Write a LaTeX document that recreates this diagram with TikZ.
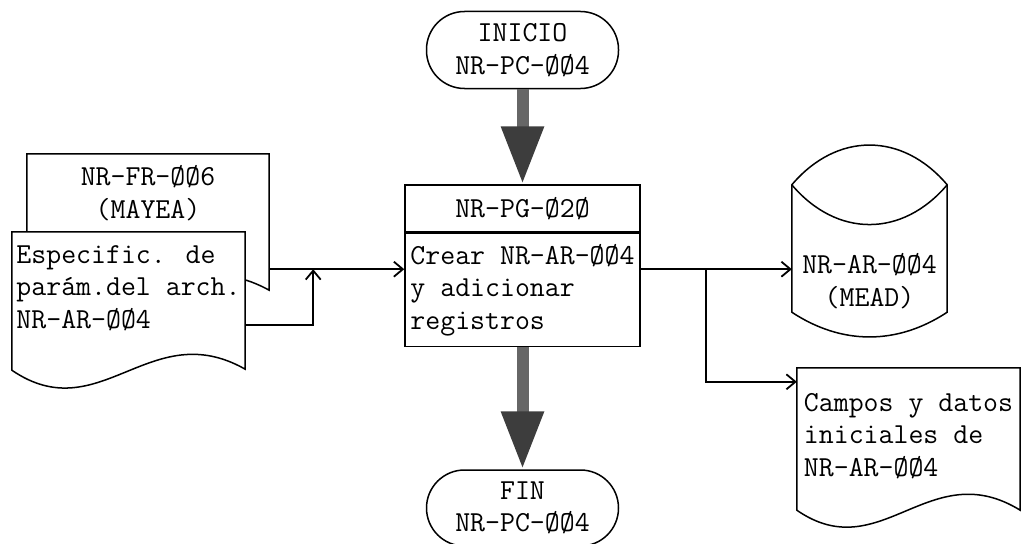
\documentclass[tikz,border=0pt]{standalone}
\usepackage{fontspec}
\usepackage{tikz}
\usetikzlibrary{arrows.meta,positioning,calc,backgrounds}

\begin{document}
\begin{tikzpicture}[
			x=1pt, y=-1pt,
			txt/.style={
				font=\ttfamily\fontsize{29}{32.5}\selectfont
			},
			terminal/.style={
				txt,
				draw,
				line width=1.5pt,
				rounded corners=38pt,
				align=center,
				minimum width=192pt,
				minimum height=77pt,
				inner sep=2pt
			},
			process/.style={
				txt,
				draw,
				line width=1.5pt,
				align=left,
				minimum width=235pt,
				inner sep=3pt
			},
			docnode/.style={
				txt,
				align=left,
				inner sep=2pt
			},
			docframe/.style={
				draw,
				line width=1.5pt,
				fill=white
			},
			flow/.style={
				line width=12pt,
				draw=black!60,
				-{Triangle[length=58pt,width=40pt,color=black!76]}
			},
			link/.style={
				line width=1.8pt,
				-{Straight Barb[length=9pt,width=15pt]}
			}
			]
			
			\useasboundingbox (0,0) rectangle (1024,543);
			
			%=====================================================================
			% Main process
			%=====================================================================
			
			\node[process, minimum height=47pt] (pgm) at (522.5,208.5)
			{NR-PG-Ø2Ø};
			
			\node[process, minimum height=113pt, below=0pt of pgm] (crear)
			{Crear NR-AR-ØØ4\\y adicionar\\registros};
			
			\node[terminal, above=95pt of pgm] (inicio)
			{INICIO\\NR-PC-ØØ4};
			
			\node[terminal, minimum height=76pt, below=122pt of crear] (fin)
			{FIN\\NR-PC-ØØ4};
			
			\draw[flow] (inicio) -- (pgm);
			\draw[flow] (crear) -- (fin);
			
			%=====================================================================
			% Inputs
			%=====================================================================
			
			\node[docnode, align=center, minimum width=242pt, minimum height=78pt] (mayea) at (148,193)
			{NR-FR-ØØ6\\(MAYEA)};
			
			\node[docnode, minimum width=233pt, minimum height=112pt] (espec) at (128.5,288)
			{Especific. de\\parám.del arch.\\NR-AR-ØØ4};
			
			%=====================================================================
			% Outputs
			%=====================================================================
			
			\node[docnode, align=center, minimum width=155pt, minimum height=112pt] (mead) at (869.5,281)
			{NR-AR-ØØ4\\(MEAD)};
			
			\node[docnode, minimum width=223pt, minimum height=136pt] (campos) at (908.5,436)
			{Campos y datos\\iniciales de\\NR-AR-ØØ4};
			
			\begin{scope}[on background layer]
				\draw[docframe]
				(mayea.north west) -- (mayea.north east)
				-- ($(mayea.south east)+(0,58)$)
				.. controls ($(mayea.south east)+(-98,4)$) and ($(mayea.south west)+(91,118)$)
				.. ($(mayea.south west)+(0,58)$) -- cycle;
				
				\draw[docframe]
				(espec.north west) -- (espec.north east)
				-- ($(espec.south east)+(0,25)$)
				.. controls ($(espec.south east)+(-95,-29)$) and ($(espec.south west)+(88,86)$)
				.. ($(espec.south west)+(0,26)$) -- cycle;
				
				\draw[docframe]
				(campos.north west) -- (campos.north east)
				-- ($(campos.south east)+(0,6)$)
				.. controls ($(campos.south east)+(-91,-50)$) and ($(campos.south west)+(84,64)$)
				.. ($(campos.south west)+(0,6)$) -- cycle;
				
				\draw[docframe]
				($(mead.north west)+(0,-40)$)
				.. controls ($(mead.north west)+(45,-93)$) and ($(mead.north east)+(-45,-93)$)
				.. ($(mead.north east)+(0,-40)$)
				-- ($(mead.south east)+(0,-25)$)
				.. controls ($(mead.south east)+(-50,8)$) and ($(mead.south west)+(50,8)$)
				.. ($(mead.south west)+(0,-25)$) -- cycle;
				
				\draw[docframe, fill=none]
				($(mead.north west)+(0,-40)$)
				.. controls ($(mead.north west)+(45,13)$) and ($(mead.north east)+(-45,13)$)
				.. ($(mead.north east)+(0,-40)$);
			\end{scope}
			
			%=====================================================================
			% Connectors
			%=====================================================================
			
			\coordinate (mayea-out) at ($(mayea.south east)+(0,37)$);
			\coordinate (merge) at ($(mayea-out)+(44,0)$);
			
			\draw[link] (mayea-out) -- (mayea-out -| crear.west);
			\draw[link] ($(espec.south east)+(0,-19)$) -| (merge);
			
			\draw[link] (crear.east |- mayea-out) -- (mead.west |- mayea-out);
			
			\coordinate (split) at ($(crear.east |- mayea-out)+(65,0)$);
			
			\draw[link] (split) |- ($(campos.north west)+(0,14)$);
			
		\end{tikzpicture}
\end{document}
